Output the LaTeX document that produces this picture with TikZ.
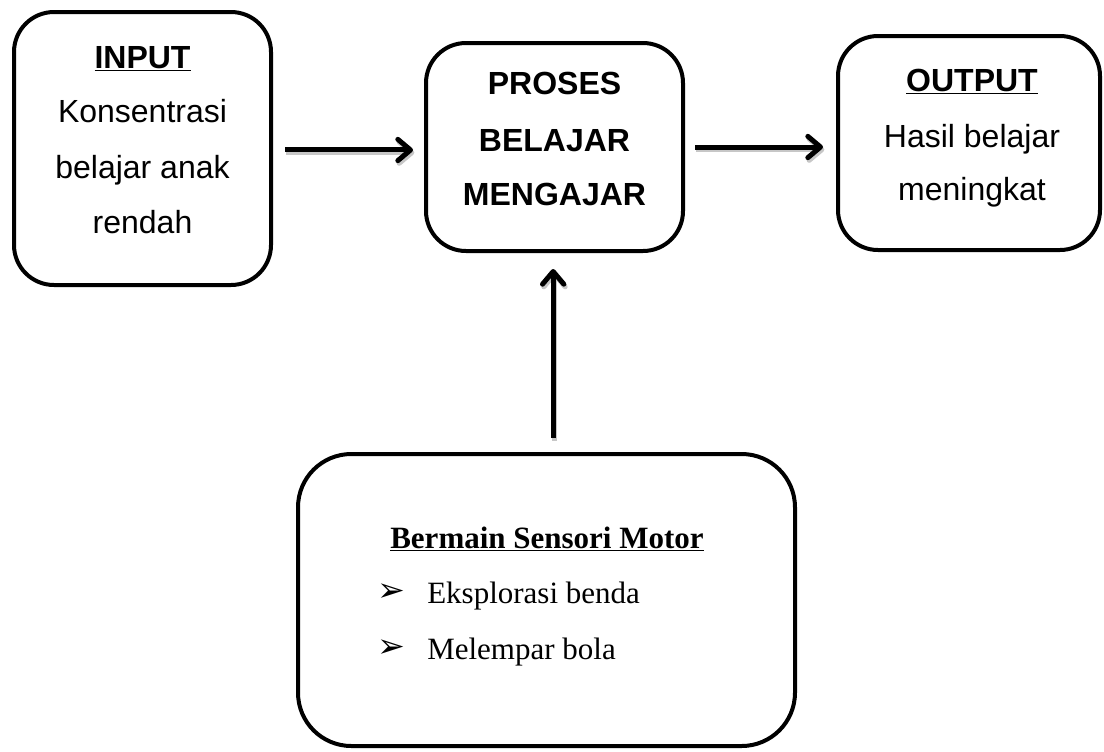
\documentclass[tikz,border=0pt]{standalone}
\usepackage{fontspec}
\setmainfont{Liberation Sans}
\newfontfamily\tnr{Liberation Serif}
\newfontfamily\djv{DejaVu Sans}
\usetikzlibrary{arrows.meta}
\tikzset{
  box/.style={draw=black, line width=3pt, rounded corners=30pt, inner sep=0pt},
  arr/.style={line width=3.75pt, -{Straight Barb[length=9.5pt,width=16pt,round]}},
  shad/.style={arr, draw=black!22, transform canvas={xshift=1pt,yshift=-2pt}},
  sans/.style={font=\fontsize{24}{24}\selectfont, anchor=base, inner sep=0pt},
  sansb/.style={font=\fontsize{24}{24}\selectfont\bfseries, anchor=base, inner sep=0pt},
  serif/.style={font=\fontsize{23.25}{23.25}\selectfont\tnr, inner sep=0pt},
  bul/.style={font=\fontsize{25}{25}\selectfont\djv, anchor=center, inner sep=0pt},
}
\begin{document}
\begin{tikzpicture}[x=0.75pt,y=-0.75pt]
\useasboundingbox (0,0) rectangle (1104,751);
% boxes
\node[box, minimum width=192.75pt, minimum height=204.75pt] (b1) at (142.5,148.5) {};
\node[box, minimum width=192.75pt, minimum height=156pt] (b2) at (554.5,147) {};
\node[box, minimum width=196.5pt, minimum height=160.5pt] (b3) at (969,143) {};
\node[box, rounded corners=40pt, minimum width=372.75pt, minimum height=219pt] (b4) at (546.5,600) {};
% texts box 1
\node[sansb] (t1a) at (142.5,68) {\underline{INPUT}};
\node[sans] (t1b) at (142.5,122) {Konsentrasi};
\node[sans] (t1c) at (142.5,178) {belajar anak};
\node[sans] (t1d) at (142.5,233) {rendah};
% texts box 2
\node[sansb] (t2a) at (554.5,94) {PROSES};
\node[sansb] (t2b) at (554.5,151) {BELAJAR};
\node[sansb] (t2c) at (554.5,205) {MENGAJAR};
% texts box 3
\node[sansb] (t3a) at (972,91) {\underline{OUTPUT}};
\node[sans] (t3b) at (972,147) {Hasil belajar};
\node[sans] (t3c) at (972,200) {meningkat};
% texts box 4
\node[serif, anchor=base] (t4a) at (547,548) {\bfseries\underline{Bermain Sensori Motor}};
\node[bul] (k1) at (391,593) {➢};
\node[serif, anchor=base west] (t4b) at (427,603) {Eksplorasi benda};
\node[bul] (k2) at (391,649) {➢};
\node[serif, anchor=base west] (t4c) at (427,659) {Melempar bola};
% arrow shadows
\draw[shad] ([xshift=9pt,yshift=-1.1pt]b1.east) -- ([xshift=-8.25pt,yshift=-1.1pt]b1.east -| b2.west);
\draw[shad] ([xshift=7.5pt]b2.east) -- ([xshift=-9.75pt]b2.east -| b3.west);
\draw[shad] ([xshift=-1pt,yshift=10.5pt]b4.north -| b2.south) -- ([xshift=-1pt,yshift=-12pt]b2.south);
% arrows
\draw[arr] ([xshift=9pt,yshift=-1.1pt]b1.east) -- ([xshift=-8.25pt,yshift=-1.1pt]b1.east -| b2.west);
\draw[arr] ([xshift=7.5pt]b2.east) -- ([xshift=-9.75pt]b2.east -| b3.west);
\draw[arr] ([xshift=-1pt,yshift=10.5pt]b4.north -| b2.south) -- ([xshift=-1pt,yshift=-12pt]b2.south);
\end{tikzpicture}
\end{document}
